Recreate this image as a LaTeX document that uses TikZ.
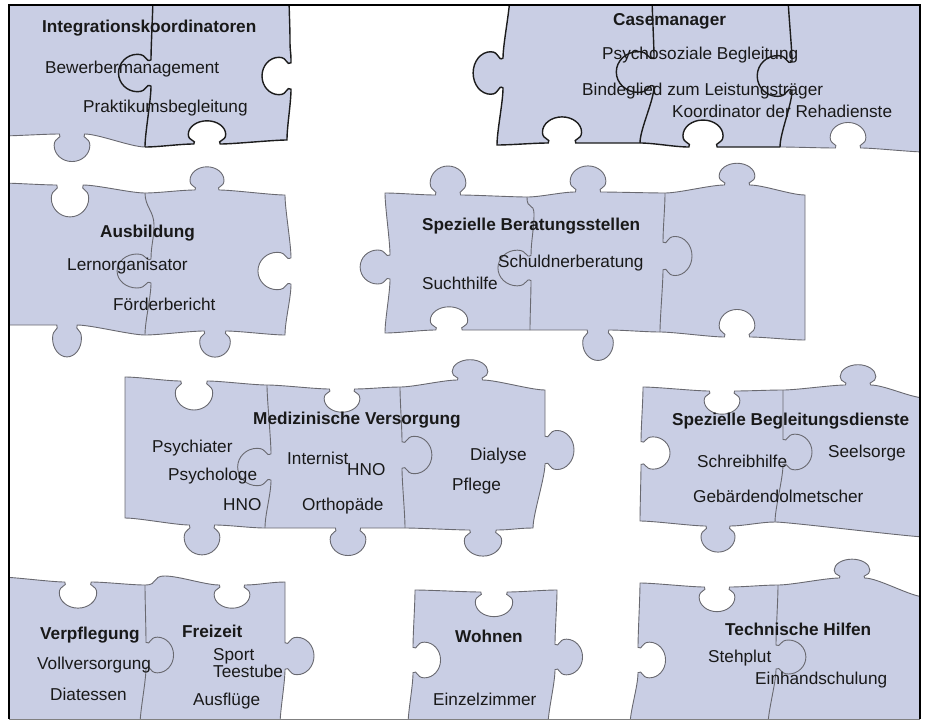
\documentclass[tikz,border=0pt]{standalone}
\usepackage{fontspec}
\setmainfont{Liberation Sans}
\definecolor{pzfill}{RGB}{201,206,228}
\definecolor{pzline}{RGB}{105,105,112}
\definecolor{pzdark}{RGB}{28,28,28}
\definecolor{txt}{RGB}{25,25,25}
% horizontal knob: xc, y, travel sign, bulge sign (pixel y), width scale, depth scale
\newcommand\pzhk[6]{ .. controls +({(#3)*14},0) and +({-(#3)*14},0) .. ({#1-(#3)*(#5)*12},{#2}) .. controls ({#1-(#3)*(#5)*9},{#2+(#4)*(#6)*5}) and ({#1-(#3)*(#5)*17},{#2+(#4)*(#6)*3}) .. ({#1-(#3)*(#5)*17},{#2+(#4)*(#6)*12}) .. controls ({#1-(#3)*(#5)*17},{#2+(#4)*(#6)*21.4}) and ({#1-(#3)*(#5)*9.4},{#2+(#4)*(#6)*29}) .. ({#1},{#2+(#4)*(#6)*29}) .. controls ({#1+(#3)*(#5)*9.4},{#2+(#4)*(#6)*29}) and ({#1+(#3)*(#5)*17},{#2+(#4)*(#6)*21.4}) .. ({#1+(#3)*(#5)*17},{#2+(#4)*(#6)*12}) .. controls ({#1+(#3)*(#5)*17},{#2+(#4)*(#6)*3}) and ({#1+(#3)*(#5)*9},{#2+(#4)*(#6)*5}) .. ({#1+(#3)*(#5)*12},{#2})}
% vertical knob: x, yc, travel sign, bulge sign (x), width scale, depth scale
\newcommand\pzvk[6]{ .. controls +(0,{(#3)*14}) and +(0,{-(#3)*14}) .. ({#1},{#2-(#3)*(#5)*12}) .. controls ({#1+(#4)*(#6)*5},{#2-(#3)*(#5)*9}) and ({#1+(#4)*(#6)*3},{#2-(#3)*(#5)*17}) .. ({#1+(#4)*(#6)*12},{#2-(#3)*(#5)*17}) .. controls ({#1+(#4)*(#6)*21.4},{#2-(#3)*(#5)*17}) and ({#1+(#4)*(#6)*29},{#2-(#3)*(#5)*9.4}) .. ({#1+(#4)*(#6)*29},{#2}) .. controls ({#1+(#4)*(#6)*29},{#2+(#3)*(#5)*9.4}) and ({#1+(#4)*(#6)*21.4},{#2+(#3)*(#5)*17}) .. ({#1+(#4)*(#6)*12},{#2+(#3)*(#5)*17}) .. controls ({#1+(#4)*(#6)*3},{#2+(#3)*(#5)*17}) and ({#1+(#4)*(#6)*5},{#2+(#3)*(#5)*9}) .. ({#1},{#2+(#3)*(#5)*12})}
\newcommand\pzh[3]{ .. controls +({(#3)*14},0) and +({-(#3)*14},0) .. (#1,#2)}
\newcommand\pzv[3]{ .. controls +(0,{(#3)*14}) and +(0,{-(#3)*14}) .. (#1,#2)}
% group path parts
\def\Aright{\pzv{290}{40}{1} \pzvk{291}{76}{1}{-1}{1.1}{1} \pzv{287}{140}{1} \pzhk{207}{144}{-1}{-1}{1.1}{0.8} \pzh{145}{147}{-1}}
\def\Aleft{\pzhk{72}{134}{-1}{1}{1.05}{0.95} \pzh{0}{136}{-1}}
\def\Bright{\pzhk{848}{148}{-1}{-1}{1.05}{0.88} \pzh{780}{147}{-1}}
\def\Bleft{\pzhk{703}{147}{-1}{-1}{1.18}{0.93} \pzh{640}{143}{-1} \pzhk{562}{143}{-1}{-1}{1.15}{0.9} \pzh{497}{145}{-1} \pzvk{503}{73}{-1}{-1}{1.25}{1.03} \pzv{510}{-5}{-1}}
\tikzset{
  lt/.style={draw=pzline, line width=0.9pt},
  dk/.style={draw=pzdark, line width=1.4pt},
  lbl/.style={anchor=base west, inner sep=0pt, text=txt, font=\fontsize{17.2}{20}\selectfont},
  ttl/.style={lbl, font=\fontsize{17.2}{20}\selectfont\bfseries}
}
\begin{document}
\begin{tikzpicture}[x=1pt,y=-1pt]
\useasboundingbox (0,0) rectangle (925,720);
\begin{scope}
\clip (9,5) rectangle (920,719);
% Group A
\fill[pzfill] (0,-5) -- (289,-5) \Aright \Aleft -- cycle;
\draw[lt] (145,147) \Aleft;
\draw[dk] (289,-5) \Aright;
\draw[dk] (153,-5) \pzvk{151}{73}{1}{-1}{1.1}{1.12} \pzv{145}{147}{1};
% Group B
\fill[pzfill] (505,-5) -- (925,-5) -- (925,152) \Bright \Bleft -- cycle;
\draw[lt] (925,152) \Bright;
\draw[dk] (780,147) \Bleft;
\draw[dk] (652,-5) \pzvk{654}{72}{1}{-1}{1.2}{1.3} \pzv{640}{143}{1};
\draw[dk] (788,-5) \pzvk{792}{76}{1}{-1}{1.2}{1.2} \pzv{780}{147}{1};
% Group C
\path[fill=pzfill, lt] (0,183) \pzhk{70}{185}{1}{1}{1.1}{1.1} \pzh{145}{193}{1} \pzhk{207}{190}{1}{-1}{1.0}{0.8} \pzh{285}{195}{1} \pzvk{291}{271}{1}{-1}{1.1}{1.14} \pzv{285}{335}{1} \pzhk{215}{331}{-1}{1}{0.9}{0.9} \pzh{145}{335}{-1} \pzhk{67}{325}{-1}{1}{0.85}{1.1} \pzh{0}{325}{-1} -- cycle;
\draw[lt] (145,193) \pzv{154}{225}{1} \pzvk{151}{271}{1}{-1}{1.0}{1.17} \pzv{145}{335}{1};
% Group D
\path[fill=pzfill, lt] (385,193) \pzhk{448}{195}{1}{-1}{1.05}{1} \pzh{527}{197}{1} \pzhk{588}{192}{1}{-1}{1.05}{0.9} \pzh{665}{193}{1} \pzhk{737}{185}{1}{-1}{1.05}{0.75} \pzh{805}{195}{1} \pzv{805}{340}{1} \pzhk{737}{337}{-1}{-1}{1.05}{0.95} \pzh{660}{332}{-1} \pzhk{598}{330}{-1}{1}{0.9}{1.05} \pzh{530}{330}{-1} \pzhk{449}{330}{-1}{-1}{1.1}{0.8} \pzh{385}{333}{-1} \pzvk{390}{267}{-1}{-1}{1}{1.03} \pzv{385}{193}{-1} -- cycle;
\draw[lt] (527,197) \pzv{534}{215}{1} \pzvk{531}{268}{1}{-1}{1.05}{1.14} \pzv{530}{330}{1};
\draw[lt] (665,193) \pzvk{663}{256}{1}{1}{1.15}{1.0} \pzv{660}{332}{1};
% Group E
\path[fill=pzfill, lt] (125,377) \pzhk{194}{381}{1}{1}{1.1}{1} \pzh{267}{385}{1} \pzhk{342}{389}{1}{1}{1.05}{0.8} \pzh{400}{387}{1} \pzhk{470}{380}{1}{-1}{1.05}{0.7} \pzh{545}{390}{1} \pzvk{545}{450}{1}{1}{1.15}{1} \pzv{533}{528}{1} \pzhk{483}{530}{-1}{1}{1.1}{0.9} \pzh{405}{528}{-1} \pzhk{348}{528}{-1}{1}{1.05}{0.95} \pzh{265}{528}{-1} \pzhk{202}{525}{-1}{1}{1.05}{1.03} \pzh{125}{518}{-1} \pzv{125}{377}{-1} -- cycle;
\draw[lt] (267,385) \pzvk{271}{467}{1}{-1}{1.1}{1.15} \pzv{265}{528}{1};
\draw[lt] (400,387) \pzvk{402}{455}{1}{1}{1.1}{1.03} \pzv{405}{528}{1};
% Group F
\path[fill=pzfill, lt] (643,387) \pzhk{722}{391}{1}{1}{1.05}{0.8} \pzh{783}{390}{1} \pzhk{858}{385}{1}{-1}{1.05}{0.7} \pzh{925}{398}{1} -- (925,537) \pzh{775}{522}{-1} \pzhk{718}{526}{-1}{1}{1}{0.9} \pzh{640}{521}{-1} \pzvk{641}{453}{-1}{1}{0.95}{1} \pzv{643}{387}{-1} -- cycle;
\draw[lt] (783,390) \pzvk{783}{452}{1}{1}{1.05}{1} \pzv{775}{522}{1};
% Group G
\path[fill=pzfill, lt] (0,577) \pzhk{78}{582}{1}{1}{1.1}{0.9} \pzh{145}{585}{1} \pzh{165}{576}{1} \pzhk{232}{585}{1}{1}{1.05}{0.8} \pzh{285}{582}{1} \pzvk{285}{656}{1}{1}{1.1}{1} \pzv{280}{725}{1} -- (0,725) -- cycle;
\draw[lt] (145,585) \pzvk{146}{655}{1}{1}{1.05}{0.95} \pzv{140}{725}{1};
% Group H
\path[fill=pzfill, lt] (415,590) \pzhk{494}{592}{1}{1}{1.1}{0.85} \pzh{557}{590}{1} \pzvk{555}{657}{1}{1}{1.05}{0.95} \pzv{548}{725}{1} -- (408,725) \pzvk{413}{660}{-1}{1}{1.05}{0.95} \pzv{415}{590}{-1} -- cycle;
% Group I
\path[fill=pzfill, lt] (640,583) \pzhk{717}{587}{1}{1}{1.05}{0.85} \pzh{778}{585}{1} \pzhk{852}{578}{1}{-1}{1.05}{0.65} \pzh{925}{597}{1} -- (925,725) -- (630,725) \pzvk{638}{660}{-1}{1}{1.05}{0.95} \pzv{640}{583}{-1} -- cycle;
\draw[lt] (778,585) \pzvk{776}{657}{1}{1}{1}{1.03} \pzv{768}{725}{1};
\end{scope}
% frame
\draw[black, line width=1.8pt] (9,719) -- (9,5) -- (920,5) -- (920,719);
\draw[gray, line width=1pt] (9,719) -- (920,719);
% texts
\node[ttl] (t1) at (42,32) {Integrationskoordinatoren};
\node[lbl] (t2) at (45,73) {Bewerbermanagement};
\node[lbl] (t3) at (83,112) {Praktikumsbegleitung};
\node[ttl] (t4) at (613,25) {Casemanager};
\node[lbl] (t5) at (602,59) {Psychosoziale Begleitung};
\node[lbl] (t6) at (582,95) {Bindeglied zum Leistungsträger};
\node[lbl] (t7) at (672,117) {Koordinator der Rehadienste};
\node[ttl] (t8) at (100,237) {Ausbildung};
\node[lbl] (t9) at (67,270) {Lernorganisator};
\node[lbl] (t10) at (113,310) {Förderbericht};
\node[ttl] (t11) at (422,230) {Spezielle Beratungsstellen};
\node[lbl] (t12) at (498,267) {Schuldnerberatung};
\node[lbl] (t13) at (422,289) {Suchthilfe};
\node[ttl] (t14) at (253,424) {Medizinische Versorgung};
\node[lbl] (t15) at (152,452) {Psychiater};
\node[lbl] (t16) at (168,480) {Psychologe};
\node[lbl] (t17) at (223,510) {HNO};
\node[lbl] (t18) at (287,464) {Internist};
\node[lbl] (t19) at (347,475) {HNO};
\node[lbl] (t20) at (302,510) {Orthopäde};
\node[lbl] (t21) at (470,460) {Dialyse};
\node[lbl] (t22) at (452,490) {Pflege};
\node[ttl] (t23) at (672,425) {Spezielle Begleitungsdienste};
\node[lbl] (t24) at (697,467) {Schreibhilfe};
\node[lbl] (t25) at (828,457) {Seelsorge};
\node[lbl] (t26) at (693,502) {Gebärdendolmetscher};
\node[ttl] (t27) at (40,639) {Verpflegung};
\node[lbl] (t28) at (37,669) {Vollversorgung};
\node[lbl] (t29) at (50,700) {Diatessen};
\node[ttl] (t30) at (182,637) {Freizeit};
\node[lbl] (t31) at (213,660) {Sport};
\node[lbl] (t32) at (213,677) {Teestube};
\node[lbl] (t33) at (193,705) {Ausflüge};
\node[ttl] (t34) at (455,642) {Wohnen};
\node[lbl] (t35) at (433,705) {Einzelzimmer};
\node[ttl] (t36) at (725,635) {Technische Hilfen};
\node[lbl] (t37) at (708,662) {Stehplut};
\node[lbl] (t38) at (755,684) {Einhandschulung};
\end{tikzpicture}
\end{document}
